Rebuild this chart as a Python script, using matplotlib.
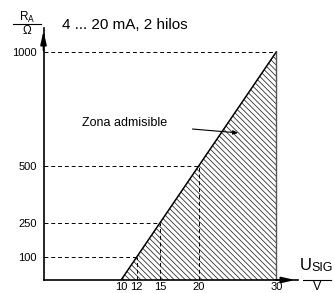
import numpy as np
import matplotlib
matplotlib.use('Agg')
import matplotlib.pyplot as plt

# datos
u_sig = [10, 12, 15, 20, 30]          # tension de la senal (V)
r_a = [0, 100, 250, 500, 1000]        # resistencia de carga (Ohm)
yticks = [100, 250, 500, 1000]
xticks = [10, 12, 15, 20, 30]

regular = ['Liberation Sans', 'DejaVu Sans']
plt.rcParams['font.family'] = regular
plt.rcParams['hatch.linewidth'] = 0.6

fig = plt.figure(figsize=(3.35, 2.93), dpi=100)
ax = fig.add_axes([43.5 / 335, 13 / 293, 254.5 / 335, 252 / 293])
ax.set_xlim(0, 32.8)
ax.set_ylim(0, 1105)

# zona admisible (rayada)
poly_x = u_sig + [u_sig[-1]]
poly_y = r_a + [0]
ax.fill(poly_x, poly_y, facecolor='white', edgecolor='#333333', hatch='\\' * 6, lw=0)
ax.plot(u_sig, r_a, color='black', lw=1.1)
ax.plot([u_sig[-1], u_sig[-1]], [0, r_a[-1]], color='#555555', lw=1.0)

# lineas auxiliares
for u, r in zip(u_sig[1:], r_a[1:]):
    ax.plot([0, u], [r, r], color='black', lw=0.7, ls=(0, (4, 3)))
    if u < 30:
        ax.plot([u, u], [0, r], color='black', lw=0.7, ls=(0, (4, 3)))

# ejes
for s in ['top', 'right']:
    ax.spines[s].set_visible(False)
ax.spines['left'].set_linewidth(1.2)
ax.spines['bottom'].set_linewidth(1.2)
ax.set_xticks(xticks)
ax.set_yticks(yticks)
ax.set_xticklabels([str(t) for t in xticks])
ax.set_yticklabels([str(t) for t in yticks])
ax.tick_params(length=0, labelsize=8)
ax.tick_params(axis='x', pad=1.5)
ax.tick_params(axis='y', pad=5)

ax.annotate('', xy=(0, 1.0), xytext=(0, 0.9), xycoords='axes fraction',
            arrowprops=dict(arrowstyle='-|>,head_length=0.8,head_width=0.18', color='black', lw=1.2))
ax.annotate('', xy=(1.0, 0), xytext=(0.9, 0), xycoords='axes fraction',
            arrowprops=dict(arrowstyle='-|>,head_length=0.8,head_width=0.18', color='black', lw=1.2))

# textos
fig.text(62 / 335, 1 - 25 / 293, '4 ... 20 mA, 2 hilos', fontsize=11, va='center')
fig.text(27 / 335, 1 - 17 / 293, r'R$_{\mathrm{A}}$', fontsize=8.5, ha='center', va='center')
fig.lines.append(plt.Line2D([13 / 335, 41 / 335], [1 - 24 / 293, 1 - 24 / 293],
                            transform=fig.transFigure, color='black', lw=0.8))
fig.text(27 / 335, 1 - 31 / 293, 'Ω', fontsize=8.5, ha='center', va='center')

fig.text(300 / 335, 1 - 265 / 293, 'U', fontsize=12, va='center')
fig.text(311 / 335, 1 - 268 / 293, 'SIG', fontsize=9, va='center')
fig.lines.append(plt.Line2D([303 / 335, 331 / 335], [1 - 280 / 293, 1 - 280 / 293],
                            transform=fig.transFigure, color='black', lw=0.8))
fig.text(317 / 335, 1 - 287 / 293, 'V', fontsize=9, ha='center', va='center')

ax.text(10.4, 689, 'Zona admisible', fontsize=9, ha='center', va='center')
ax.annotate('', xy=(25.1, 645), xytext=(19.2, 662),
            arrowprops=dict(arrowstyle='-|>,head_length=0.3,head_width=0.12', color='black',
                            lw=0.8, shrinkA=0, shrinkB=0))

fig.savefig('out.png', dpi=100)
